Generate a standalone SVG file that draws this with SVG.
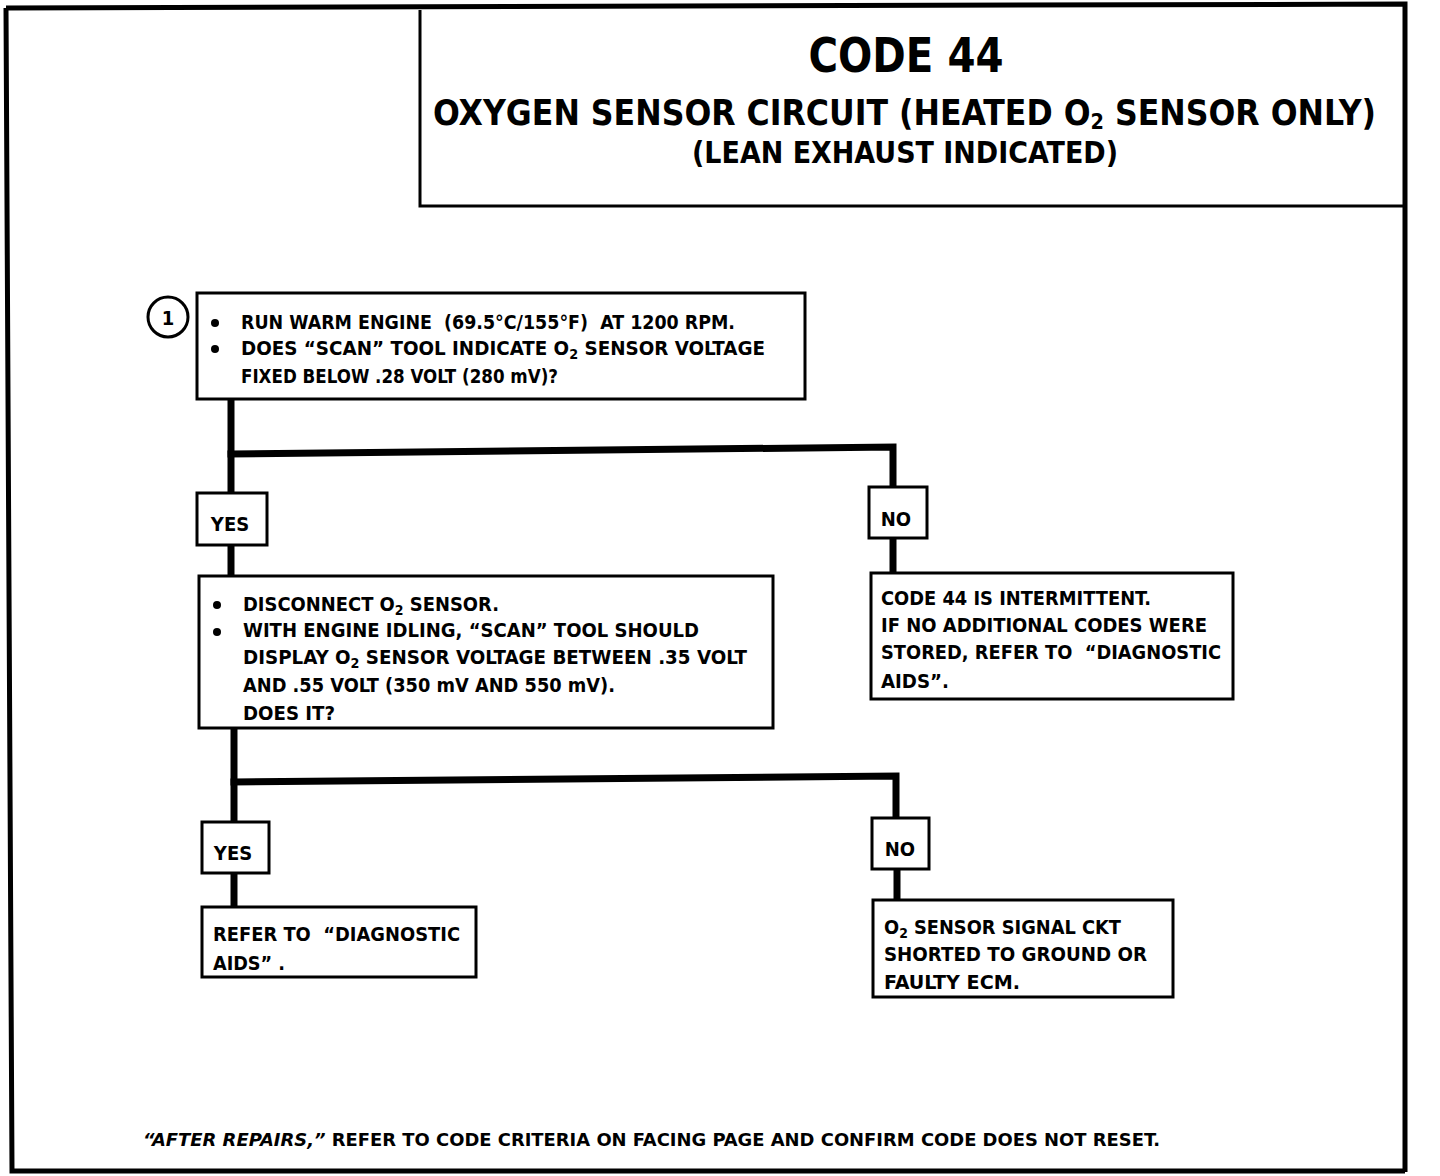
<svg xmlns="http://www.w3.org/2000/svg" width="1440" height="1176" viewBox="0 0 1440 1176">
<style>
.frame{fill:none;stroke:#000;stroke-width:5;stroke-linejoin:miter}
.box{fill:#fff;stroke:#000;stroke-width:3}
.conn{fill:none;stroke:#000;stroke-width:7;stroke-linejoin:miter;stroke-linecap:square}
text{font-family:"DejaVu Sans Condensed","DejaVu Sans","Liberation Sans",sans-serif;font-weight:bold;fill:#000;white-space:pre}
.t{font-size:20px}
.lbl{font-size:20px;text-anchor:middle}
.sub{font-size:14px}
</style>
<rect width="1440" height="1176" fill="#fff"/>
<g id="frame">
<path class="frame" d="M6,8 L1405,4 L1405,1172 M6,8 L12,1171 L1405,1171"/>
</g>
<g id="title">
<path d="M420,10 L420,206 L1403,206" fill="none" stroke="#000" stroke-width="3"/>
<text x="906" y="72" font-size="48" text-anchor="middle" textLength="195" lengthAdjust="spacingAndGlyphs">CODE 44</text>
<text x="433" y="125" font-size="36" textLength="943" lengthAdjust="spacingAndGlyphs">OXYGEN SENSOR CIRCUIT (HEATED O<tspan dy="4" font-size="22">2</tspan><tspan dy="-4"> SENSOR ONLY)</tspan></text>
<text x="692" y="163" font-size="30" textLength="426" lengthAdjust="spacingAndGlyphs">(LEAN EXHAUST INDICATED)</text>
</g>
<g id="connectors">
<path class="conn" d="M231,401 L231,493"/>
<path class="conn" d="M231,454 L893,447 L893,487"/>
<path class="conn" d="M231,545 L231,577"/>
<path class="conn" d="M893,538 L893,573"/>
<path class="conn" d="M234,729 L234,822"/>
<path class="conn" d="M234,782 L896,776 L896,818"/>
<path class="conn" d="M234,873 L234,907"/>
<path class="conn" d="M897,869 L897,900"/>
</g>
<g id="step1">
<circle cx="168" cy="317" r="20" fill="#fff" stroke="#000" stroke-width="3"/>
<text x="168" y="325" font-size="20" text-anchor="middle">1</text>
<rect class="box" x="197" y="293" width="608" height="106"/>
<circle cx="215" cy="323" r="4"/>
<circle cx="215" cy="349" r="4"/>
<text class="t" x="241" y="329" textLength="494" lengthAdjust="spacingAndGlyphs">RUN WARM ENGINE  (69.5°C/155°F)  AT 1200 RPM.</text>
<text class="t" x="241" y="355" textLength="524" lengthAdjust="spacingAndGlyphs">DOES “SCAN” TOOL INDICATE O<tspan class="sub" dy="4">2</tspan><tspan dy="-4"> SENSOR VOLTAGE</tspan></text>
<text class="t" x="241" y="383" textLength="317" lengthAdjust="spacingAndGlyphs">FIXED BELOW .28 VOLT (280 mV)?</text>
</g>
<g id="yes1">
<rect class="box" x="197" y="493" width="70" height="52"/>
<text class="lbl" x="230" y="531">YES</text>
</g>
<g id="no1">
<rect class="box" x="869" y="487" width="58" height="51"/>
<text class="lbl" x="896" y="526">NO</text>
</g>
<g id="step2">
<rect class="box" x="199" y="576" width="574" height="152"/>
<circle cx="217" cy="605" r="4"/>
<circle cx="217" cy="632" r="4"/>
<text class="t" x="243" y="611" textLength="256" lengthAdjust="spacingAndGlyphs">DISCONNECT O<tspan class="sub" dy="4">2</tspan><tspan dy="-4"> SENSOR.</tspan></text>
<text class="t" x="243" y="637" textLength="456" lengthAdjust="spacingAndGlyphs">WITH ENGINE IDLING, “SCAN” TOOL SHOULD</text>
<text class="t" x="243" y="664" textLength="504" lengthAdjust="spacingAndGlyphs">DISPLAY O<tspan class="sub" dy="4">2</tspan><tspan dy="-4"> SENSOR VOLTAGE BETWEEN .35 VOLT</tspan></text>
<text class="t" x="243" y="692" textLength="372" lengthAdjust="spacingAndGlyphs">AND .55 VOLT (350 mV AND 550 mV).</text>
<text class="t" x="243" y="720" textLength="92" lengthAdjust="spacingAndGlyphs">DOES IT?</text>
</g>
<g id="intermittent">
<rect class="box" x="871" y="573" width="362" height="126"/>
<text class="t" x="881" y="605" textLength="270" lengthAdjust="spacingAndGlyphs">CODE 44 IS INTERMITTENT.</text>
<text class="t" x="881" y="632" textLength="326" lengthAdjust="spacingAndGlyphs">IF NO ADDITIONAL CODES WERE</text>
<text class="t" x="881" y="659" textLength="340" lengthAdjust="spacingAndGlyphs">STORED, REFER TO  “DIAGNOSTIC</text>
<text class="t" x="881" y="688" textLength="68" lengthAdjust="spacingAndGlyphs">AIDS”.</text>
</g>
<g id="yes2">
<rect class="box" x="202" y="822" width="67" height="51"/>
<text class="lbl" x="233" y="860">YES</text>
</g>
<g id="no2">
<rect class="box" x="872" y="818" width="57" height="51"/>
<text class="lbl" x="900" y="856">NO</text>
</g>
<g id="diagaids">
<rect class="box" x="202" y="907" width="274" height="70"/>
<text class="t" x="213" y="941" textLength="247" lengthAdjust="spacingAndGlyphs">REFER TO  “DIAGNOSTIC</text>
<text class="t" x="213" y="970" textLength="72" lengthAdjust="spacingAndGlyphs">AIDS” .</text>
</g>
<g id="shorted">
<rect class="box" x="873" y="900" width="300" height="97"/>
<text class="t" x="884" y="934" textLength="237" lengthAdjust="spacingAndGlyphs">O<tspan class="sub" dy="4">2</tspan><tspan dy="-4"> SENSOR SIGNAL CKT</tspan></text>
<text class="t" x="884" y="961" textLength="263" lengthAdjust="spacingAndGlyphs">SHORTED TO GROUND OR</text>
<text class="t" x="884" y="989" textLength="136" lengthAdjust="spacingAndGlyphs">FAULTY ECM.</text>
</g>
<g id="footer">
<text x="143" y="1146" font-size="18" textLength="1017" lengthAdjust="spacingAndGlyphs"><tspan font-style="italic">“AFTER REPAIRS,”</tspan> REFER TO CODE CRITERIA ON FACING PAGE AND CONFIRM CODE DOES NOT RESET.</text>
</g>
</svg>
